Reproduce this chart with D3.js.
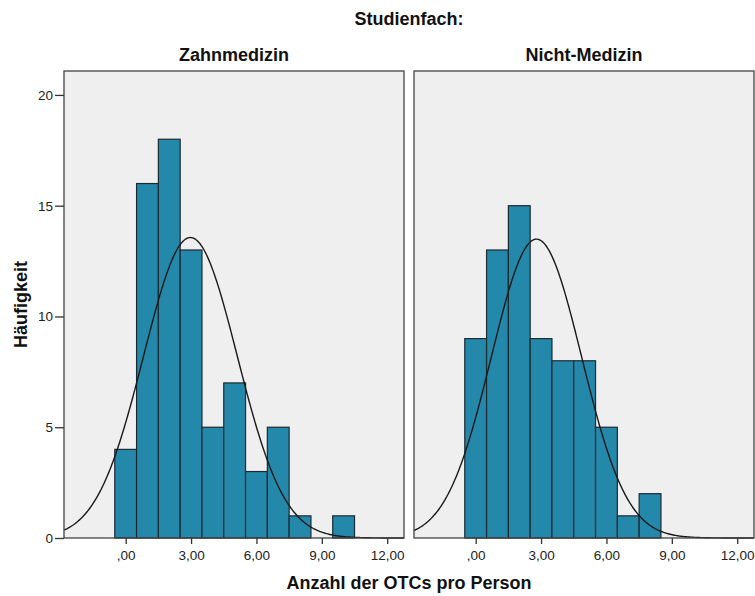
<!DOCTYPE html>
<html><head><meta charset="utf-8">
<script src="https://cdn.jsdelivr.net/npm/d3@7"></script>
<style>
body{margin:0;background:#fff;}
text{font-family:"Liberation Sans",Arial,sans-serif;}
</style></head>
<body><svg id="c" width="755" height="596"></svg>
<script>
const panels = ["Zahnmedizin", "Nicht-Medizin"];
const binCenters = [0,1,2,3,4,5,6,7,8,9,10];
const countsZahn = [4,16,18,13,5,7,3,5,1,0,1];
const countsNicht = [9,13,15,9,8,8,5,1,2,0,0];
const xTicks = [0,3,6,9,12];
const xTickLabels = [",00","3,00","6,00","9,00","12,00"];
const yTicks = [0,5,10,15,20];
const normMean = [2.97, 2.79];
const normSD = [2.147, 2.07];
const allCounts = [countsZahn, countsNicht];

const svg = d3.select("#c");
const plotTop = 71, plotBottom = 538, pw = 340;
const panelLeft = [64, 414];
const y = d3.scaleLinear().domain([0, 21.08]).range([plotBottom, plotTop]);

svg.append("text").attr("x", 409).attr("y", 25).attr("text-anchor","middle")
  .attr("font-size", 18).attr("font-weight","bold").attr("fill","#111").text("Studienfach:");

panels.forEach((name, i) => {
  const x0 = panelLeft[i];
  const x = d3.scaleLinear().domain([-2.83, 12.77]).range([x0, x0 + pw]);
  const g = svg.append("g");
  g.append("rect").attr("x", x0).attr("y", plotTop).attr("width", pw).attr("height", plotBottom-plotTop)
    .attr("fill","#efefef");
  g.append("text").attr("x", x0 + pw/2).attr("y", 61).attr("text-anchor","middle")
    .attr("font-size", 18).attr("font-weight","bold").attr("fill","#111").text(name);
  const counts = allCounts[i];
  g.selectAll("rect.bar").data(binCenters.map((c,j)=>({c, n:counts[j]})).filter(d=>d.n>0))
    .enter().append("rect").attr("class","bar")
    .attr("x", d => x(d.c-0.5)).attr("width", d => x(d.c+0.5)-x(d.c-0.5))
    .attr("y", d => y(d.n)).attr("height", d => y(0)-y(d.n))
    .attr("fill","#2388aa").attr("stroke","#1c2a30").attr("stroke-width",1.2);
  const N = d3.sum(counts);
  const m = normMean[i], s = normSD[i];
  const xs = d3.range(-2.83, 12.77001, 0.05);
  const line = d3.line().x(v => x(v)).y(v => y(N/(s*Math.sqrt(2*Math.PI))*Math.exp(-0.5*((v-m)/s)**2)));
  g.append("path").datum(xs).attr("d", line).attr("fill","none").attr("stroke","#1a1a1a").attr("stroke-width",1.4);
  g.append("rect").attr("x", x0).attr("y", plotTop).attr("width", pw).attr("height", plotBottom-plotTop)
    .attr("fill","none").attr("stroke","#444").attr("stroke-width",1.3);
  const xa = d3.axisBottom(x).tickValues(xTicks).tickFormat((d,k)=>xTickLabels[k]).tickSize(6).tickSizeOuter(0);
  const ga = g.append("g").attr("transform",`translate(0,${plotBottom})`).call(xa);
  ga.select(".domain").remove();
  ga.selectAll("line").attr("stroke","#333").attr("stroke-width",1.3);
  ga.selectAll("text").attr("font-size",13.5).attr("fill","#222").attr("dy","0.75em").attr("y",12)
    .style("font-family",'"Liberation Sans",Arial,sans-serif');
  if (i === 0) {
    const ya = d3.axisLeft(y).tickValues(yTicks).tickSize(9).tickSizeOuter(0).tickPadding(2);
    const gy = g.append("g").attr("transform",`translate(${x0},0)`).call(ya);
    gy.select(".domain").remove();
    gy.selectAll("line").attr("stroke","#333").attr("stroke-width",1.3);
    gy.selectAll("text").attr("font-size",13.5).attr("fill","#222")
      .style("font-family",'"Liberation Sans",Arial,sans-serif');
  }
});

svg.append("text").attr("transform","translate(27,304.5) rotate(-90)").attr("text-anchor","middle")
  .attr("font-size",18).attr("font-weight","bold").attr("fill","#111").text("Häufigkeit");
svg.append("text").attr("x", 409).attr("y", 589).attr("text-anchor","middle")
  .attr("font-size",18).attr("font-weight","bold").attr("fill","#111").text("Anzahl der OTCs pro Person");
</script></body></html>
